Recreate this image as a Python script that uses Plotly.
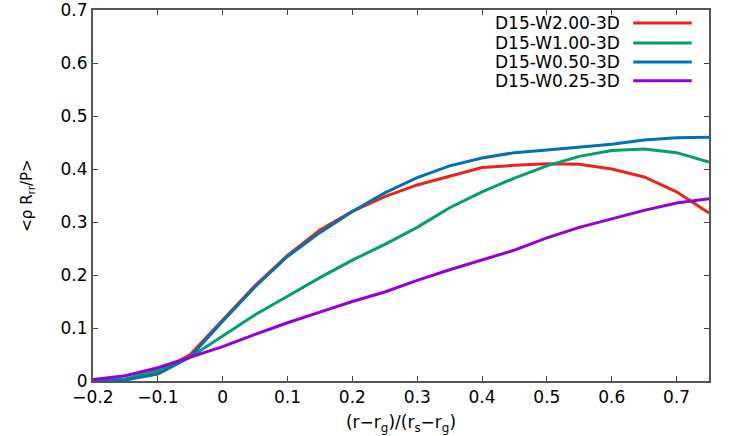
import plotly.graph_objects as go

x = [-0.2, -0.15, -0.1, -0.05, 0.0, 0.05, 0.1, 0.15, 0.2, 0.25, 0.3, 0.35,
     0.4, 0.45, 0.5, 0.55, 0.6, 0.65, 0.7, 0.75]

names = ["D15-W2.00-3D", "D15-W1.00-3D", "D15-W0.50-3D", "D15-W0.25-3D"]

w200 = [0.0, 0.003, 0.015, 0.05, 0.115, 0.18, 0.237, 0.285, 0.32, 0.348, 0.37,
        0.387, 0.403, 0.407, 0.41, 0.409, 0.4, 0.385, 0.357, 0.317]
w100 = [0.0, 0.004, 0.02, 0.045, 0.085, 0.125, 0.16, 0.195, 0.228, 0.258, 0.29,
        0.327, 0.357, 0.383, 0.406, 0.424, 0.435, 0.438, 0.431, 0.413]
w050 = [0.0, 0.002, 0.013, 0.045, 0.113, 0.178, 0.235, 0.28, 0.32, 0.355, 0.384,
        0.406, 0.421, 0.431, 0.436, 0.441, 0.447, 0.455, 0.459, 0.46]
w025 = [0.003, 0.01, 0.025, 0.045, 0.065, 0.088, 0.11, 0.13, 0.15, 0.168, 0.19,
        0.21, 0.228, 0.247, 0.27, 0.29, 0.306, 0.322, 0.336, 0.344]

series = [w200, w100, w050, w025]
colors = ["#e8251a", "#009e73", "#0072b2", "#9400d3"]

FONT = "DejaVu Sans"

fig = go.Figure()
for nm, ys, c in zip(names, series, colors):
    fig.add_trace(go.Scatter(x=x, y=ys, mode="lines", name=nm,
                             line=dict(color=c, width=3), showlegend=False))

# legend-like key (text right-aligned, sample line to the right)
rows_y = [0.965, 0.911, 0.860, 0.809]
for i, (nm, c) in enumerate(zip(names, colors)):
    fig.add_annotation(xref="paper", yref="paper", x=0.859, y=rows_y[i],
                       text=nm, showarrow=False, xanchor="right", yanchor="middle",
                       font=dict(family=FONT, size=17, color="black"))
    fig.add_shape(type="line", xref="paper", yref="paper",
                  x0=0.877, x1=0.972, y0=rows_y[i], y1=rows_y[i],
                  line=dict(color=c, width=3))

axis_common = dict(
    showline=True, linecolor="#555", linewidth=2, mirror="ticks",
    ticks="inside", ticklen=5, tickcolor="#444", tickwidth=1,
    showgrid=False, zeroline=False, automargin=False,
    tickfont=dict(family=FONT, size=17, color="black"),
)

fig.update_xaxes(range=[-0.2, 0.75], dtick=0.1, tick0=0,
                 title=dict(text="(r\u2212r<sub>g</sub>)/(r<sub>s</sub>\u2212r<sub>g</sub>)",
                            font=dict(family=FONT, size=17, color="black"), standoff=10),
                 **axis_common)
fig.update_yaxes(range=[0, 0.7002], dtick=0.1, tick0=0,
                 title=dict(text="<\u03c1 R<sub>rr</sub>/P>",
                            font=dict(family=FONT, size=15, color="black"), standoff=24),
                 **axis_common)

fig.update_layout(
    width=747, height=436,
    margin=dict(l=93, r=38, t=10, b=55),
    plot_bgcolor="white", paper_bgcolor="white",
    font=dict(family=FONT),
)

fig.write_html("out.html", config={"displayModeBar": False},
               post_script="document.body.style.margin='0';document.body.style.overflow='hidden';")
